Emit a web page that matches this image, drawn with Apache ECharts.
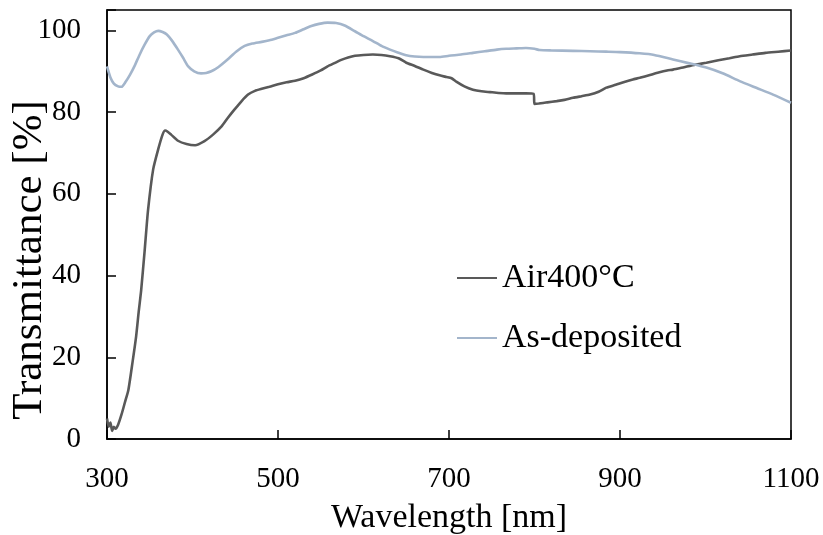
<!DOCTYPE html>
<html><head><meta charset="utf-8">
<script src="https://cdn.jsdelivr.net/npm/echarts@6/dist/echarts.min.js"></script>
<style>html,body{margin:0;padding:0;background:#fff}#c{width:823px;height:535px}</style>
</head><body><div id="c"></div>
<script>
const xTicks = [300, 500, 700, 900, 1100];
const yTicks = [0, 20, 40, 60, 80, 100];
const seriesNames = ['Air400°C', 'As-deposited'];
const xTitle = 'Wavelength [nm]';
const yTitle = 'Transmittance [%]';

const air400Wl = [300,302,304,306,308,310,313,317,321,325,330,334,337,340,344,348,354,360,365,368,371,375,383,393,403,414,424,434,441,449,457,465,473,481,490,500,510,520,530,540,550,558,566,574,582,590,600,611,621,631,641,650,660,670,680,689,697,703,709,718,728,738,748,758,767,778,790,799,800,805,815,826,835,845,855,865,875,884,895,905,915,923,935,945,955,962,975,988,1001,1015,1028,1040,1055,1070,1085,1100];
const air400T  = [5,3,4,2,3,2.5,3.5,6,9,12,19,25,31,36.5,46,56,66,71,74.5,75.5,75.2,74.5,73,72.2,71.9,72.9,74.5,76.5,78.5,80.6,82.6,84.3,85.2,85.7,86.2,86.8,87.3,87.7,88.3,89.2,90.2,91.2,92,92.8,93.4,93.8,94,94.1,94,93.7,93.2,92.1,91.3,90.4,89.6,89,88.6,88.3,87.4,86.3,85.5,85.1,84.9,84.7,84.6,84.6,84.6,84.5,82,82.1,82.4,82.7,83,83.5,83.9,84.3,85,86,86.7,87.4,88,88.4,89.1,89.7,90.2,90.4,91,91.6,92.1,92.7,93.2,93.7,94.1,94.5,94.8,95.1];

const asDepWl = [300,304,308,313,317,322,327,332,338,344,350,355,360,365,370,376,383,389,395,402,410,416,422,430,441,451,461,470,481,490,500,510,520,530,539,548,558,568,578,590,600,611,621,631,640,650,660,670,680,689,700,714,728,742,756,767,779,790,800,806,820,845,865,884,900,923,940,962,980,1001,1020,1040,1060,1079,1100];
const asDepT  = [91.2,88.5,87,86.3,86.2,87.5,89.2,91.2,94,96.5,98.6,99.5,99.9,99.6,99,97.5,95.3,93.3,91.2,90,89.5,89.6,90,91,92.9,94.8,96.2,96.8,97.2,97.6,98.2,98.8,99.4,100.3,101.1,101.6,101.9,101.8,101.2,99.8,98.6,97.4,96.2,95.3,94.6,93.9,93.6,93.5,93.5,93.5,93.8,94.1,94.5,94.9,95.3,95.5,95.6,95.7,95.5,95.2,95.1,95,94.9,94.8,94.7,94.4,94,92.9,92,90.9,89.5,87.6,85.9,84.3,82.3];

const air400 = air400Wl.map((w, i) => [w, air400T[i]]);
const asDep = asDepWl.map((w, i) => [w, asDepT[i]]);

const FONT = '"Liberation Serif", "Times New Roman", serif';
const chart = echarts.init(document.getElementById('c'), null, {renderer: 'canvas'});
chart.setOption({
  animation: false,
  backgroundColor: '#ffffff',
  grid: {left: 107, right: 32, top: 10, bottom: 96, show: true, borderColor: '#000', borderWidth: 1.5,
         containLabel: false, outerBoundsMode: 'none'},
  legend: {
    orient: 'vertical', left: 457, top: 261, padding: 0, itemWidth: 40, itemHeight: 2, itemGap: 26,
    icon: 'rect',
    textStyle: {fontFamily: FONT, fontSize: 34, color: '#000'},
    data: seriesNames
  },
  graphic: [{
    type: 'text', x: 30, y: 260, rotation: Math.PI / 2,
    style: {text: yTitle, fontFamily: FONT, fontSize: 43, fill: '#000', align: 'center', verticalAlign: 'middle'}
  }],
  xAxis: {
    type: 'value', min: xTicks[0], max: xTicks[xTicks.length - 1], interval: 200,
    name: xTitle, nameLocation: 'middle', nameGap: 62,
    nameTextStyle: {fontFamily: FONT, fontSize: 34, color: '#000'},
    axisLine: {lineStyle: {color: '#000', width: 1.5}},
    axisTick: {inside: true, length: 9, lineStyle: {color: '#000', width: 1.5}},
    axisLabel: {fontFamily: FONT, fontSize: 29, color: '#000', margin: 26, formatter: v => String(v)},
    splitLine: {show: false}
  },
  yAxis: {
    type: 'value', min: 0, max: 105, interval: 20,
    axisLine: {lineStyle: {color: '#000', width: 1.5}},
    axisTick: {inside: true, length: 9, lineStyle: {color: '#000', width: 1.5}},
    axisLabel: {fontFamily: FONT, fontSize: 29, color: '#000', margin: 26,
      formatter: v => (yTicks.indexOf(v) >= 0 ? String(v) : '')},
    splitLine: {show: false}
  },
  series: [
    {name: seriesNames[0], type: 'line', data: air400, showSymbol: false, symbol: 'none', smooth: 0.2,
     lineStyle: {color: '#595959', width: 2.6}, itemStyle: {color: '#595959'}},
    {name: seriesNames[1], type: 'line', data: asDep, showSymbol: false, symbol: 'none', smooth: 0.2,
     lineStyle: {color: '#a3b5cb', width: 2.6}, itemStyle: {color: '#a3b5cb'}}
  ]
});
</script></body></html>
